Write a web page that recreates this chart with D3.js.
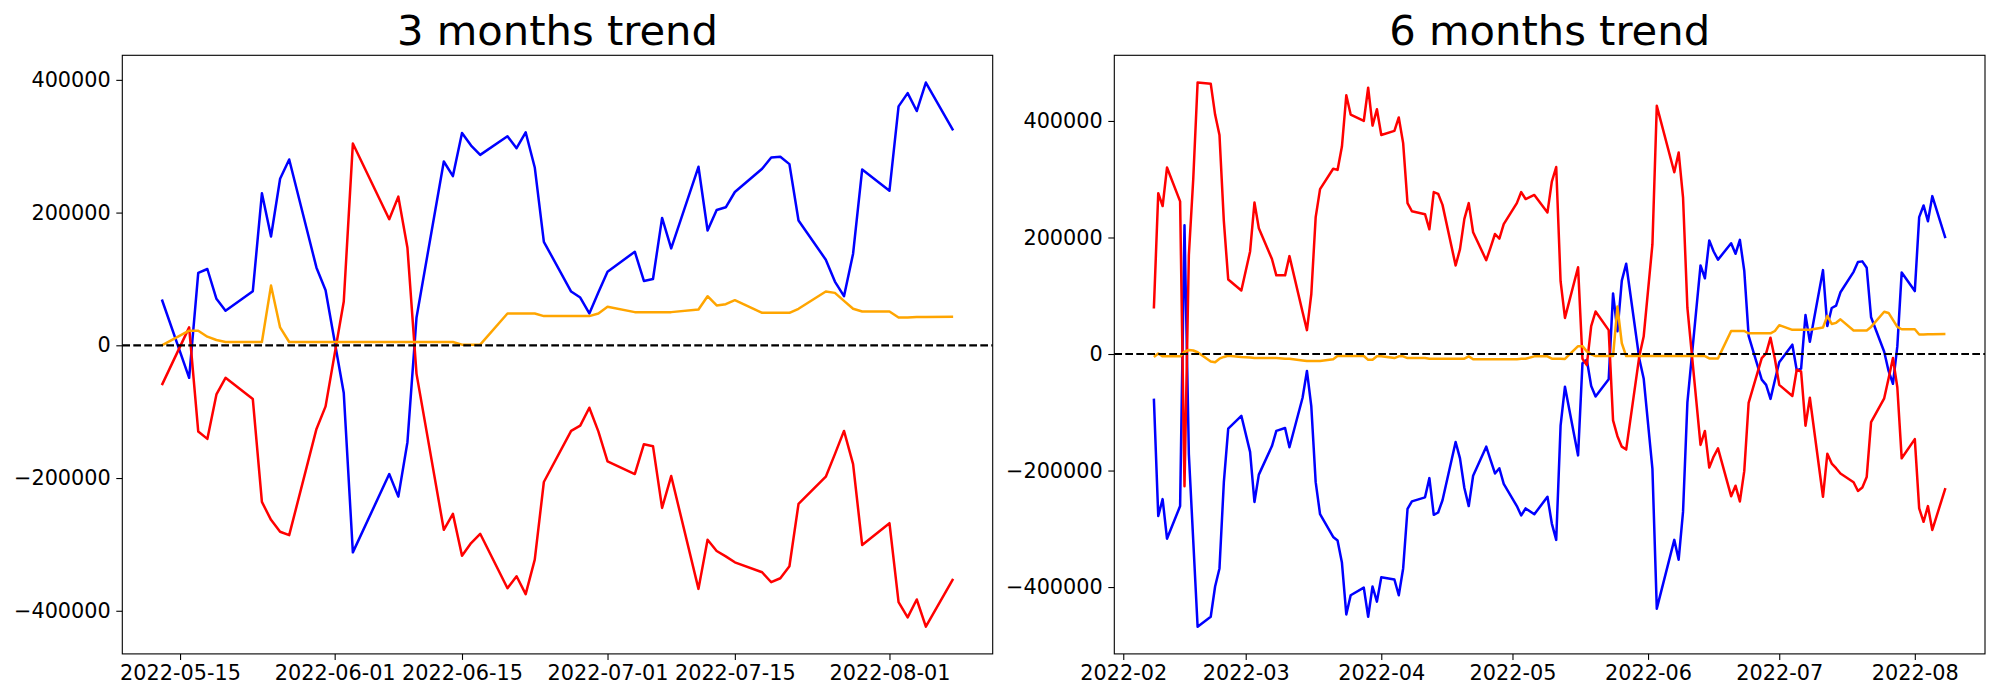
<!DOCTYPE html>
<html>
<head>
<meta charset="utf-8">
<script src="https://cdn.jsdelivr.net/npm/d3@7"></script>
<style>
  html, body { margin: 0; padding: 0; background: #fff; }
  svg { display: block; }
  text { font-family: "DejaVu Sans", sans-serif; fill: #000; }
</style>
</head>
<body>
<svg id="chart" width="2000" height="700"></svg>
<script>
// ---------- 3 months trend ----------
const dates3 = ["2022-05-13","2022-05-16","2022-05-17","2022-05-18","2022-05-19","2022-05-20","2022-05-23","2022-05-24","2022-05-25","2022-05-26","2022-05-27","2022-05-30","2022-05-31","2022-06-02","2022-06-03","2022-06-07","2022-06-08","2022-06-09","2022-06-10","2022-06-13","2022-06-14","2022-06-15","2022-06-16","2022-06-17","2022-06-20","2022-06-21","2022-06-22","2022-06-23","2022-06-24","2022-06-27","2022-06-28","2022-06-29","2022-06-30","2022-07-01","2022-07-04","2022-07-05","2022-07-06","2022-07-07","2022-07-08","2022-07-11","2022-07-12","2022-07-13","2022-07-14","2022-07-15","2022-07-18","2022-07-19","2022-07-20","2022-07-21","2022-07-22","2022-07-25","2022-07-26","2022-07-27","2022-07-28","2022-07-29","2022-08-01","2022-08-02","2022-08-03","2022-08-04","2022-08-05","2022-08-08"];
const blue3 = [69000,-49000,109000,115000,70000,52000,81500,229000,164000,251000,280000,117000,83000,-72000,-312000,-194000,-228000,-146000,42000,277000,255000,320000,301000,287000,315000,297000,321000,268000,156000,81000,72000,48000,80000,111000,141000,97000,100000,192000,146000,269000,173000,204000,208000,231000,266000,283000,284000,273000,188000,129000,96000,74000,138000,265000,233000,360000,380000,353000,396000,324000];
const red3 = [-60000,27000,-130000,-141000,-74000,-49000,-81000,-236000,-263000,-281000,-286000,-126000,-92000,66000,304000,190000,224000,147000,-43000,-278000,-254000,-317000,-298000,-284000,-366000,-348000,-375000,-323000,-206000,-129000,-121000,-94000,-130000,-175000,-194000,-149000,-152000,-245000,-197000,-367000,-293000,-310000,-318000,-327000,-342000,-357000,-351000,-333000,-239000,-198000,-164000,-129000,-179000,-301000,-268000,-387000,-410000,-383000,-424000,-352000];
const orange3 = [0,22000,22000,13000,8000,5000,5000,5000,90000,27000,5000,5000,5000,5000,5000,5000,5000,5000,5000,5000,5000,1000,1000,1000,48000,48000,48000,48000,44000,44000,44000,44000,48000,58000,50000,50000,50000,50000,50000,54000,74000,60000,62000,68000,49000,49000,49000,49000,55000,81000,79000,67000,55000,51000,51000,42000,42000,42500,42500,43000];
const xTicks3 = ["2022-05-15","2022-06-01","2022-06-15","2022-07-01","2022-07-15","2022-08-01"];

// ---------- 6 months trend ----------
const dates6 = ["2022-02-08","2022-02-09","2022-02-10","2022-02-11","2022-02-14","2022-02-15","2022-02-16","2022-02-17","2022-02-18","2022-02-21","2022-02-22","2022-02-23","2022-02-24","2022-02-25","2022-02-28",
"2022-03-02","2022-03-03","2022-03-04","2022-03-07","2022-03-08","2022-03-10","2022-03-11","2022-03-14","2022-03-15","2022-03-16","2022-03-17","2022-03-18","2022-03-21","2022-03-22","2022-03-23","2022-03-24","2022-03-25","2022-03-28","2022-03-29","2022-03-30","2022-03-31",
"2022-04-01","2022-04-04","2022-04-05","2022-04-06","2022-04-07","2022-04-08","2022-04-11","2022-04-12","2022-04-13","2022-04-14","2022-04-15","2022-04-18","2022-04-19","2022-04-20","2022-04-21","2022-04-22","2022-04-25","2022-04-26","2022-04-27","2022-04-28","2022-04-29",
"2022-05-02","2022-05-03","2022-05-04","2022-05-06","2022-05-09","2022-05-10","2022-05-11","2022-05-12",
"2022-05-13","2022-05-16","2022-05-17","2022-05-18","2022-05-19","2022-05-20","2022-05-23","2022-05-24","2022-05-25","2022-05-26","2022-05-27","2022-05-30","2022-05-31","2022-06-02","2022-06-03","2022-06-07","2022-06-08","2022-06-09","2022-06-10","2022-06-13","2022-06-14","2022-06-15","2022-06-16","2022-06-17","2022-06-20","2022-06-21","2022-06-22","2022-06-23","2022-06-24","2022-06-27","2022-06-28","2022-06-29","2022-06-30","2022-07-01","2022-07-04","2022-07-05","2022-07-06","2022-07-07","2022-07-08","2022-07-11","2022-07-12","2022-07-13","2022-07-14","2022-07-15","2022-07-18","2022-07-19","2022-07-20","2022-07-21","2022-07-22","2022-07-25","2022-07-26","2022-07-27","2022-07-28","2022-07-29","2022-08-01","2022-08-02","2022-08-03","2022-08-04","2022-08-05","2022-08-08"];
const blue6 = [-76500,-278000,-249000,-317000,-261000,221000,-172000,-320000,-468000,-451000,-399000,-368000,-220000,-128000,-106000,
-168000,-254000,-207000,-158000,-132000,-127000,-160000,-75000,-29000,-90000,-220000,-275000,-314000,-320000,-358000,-447000,-414000,-401000,-451000,-399000,-425000,
-383000,-387000,-414000,-368000,-266000,-253000,-246000,-213000,-276000,-272000,-251000,-151000,-179000,-230000,-261000,-209000,-159000,-182000,-205000,-196000,-223000,
-261000,-277000,-265000,-275000,-245000,-291000,-319000,-123000,
-56000,-174000,-16000,-10000,-55000,-73000,-43500,104000,39000,126000,155000,-8000,-42000,-197000,-437000,-319000,-353000,-271000,-83000,152000,130000,195000,176000,162000,190000,172000,196000,143000,31000,-44000,-53000,-77000,-45000,-14000,16000,-28000,-25000,67000,21000,144000,48000,79000,83000,106000,141000,158000,159000,148000,63000,4000,-29000,-51000,13000,140000,108000,235000,255000,228000,271000,199000];
const red6 = [78000,276000,254000,320000,262000,-227000,170000,300000,466000,464000,411000,376000,228000,128000,109000,
176000,260000,216000,163000,135000,135000,168000,72000,41000,103000,235000,283000,318000,316000,356000,444000,411000,400000,457000,392000,420000,
376000,383000,406000,362000,259000,245000,240000,214000,278000,275000,256000,152000,180000,232000,259000,209000,161000,183000,206000,198000,223000,
259000,278000,266000,273000,243000,296000,321000,125000,
62000,149000,-8000,-19000,48000,73000,41000,-114000,-141000,-159000,-164000,-4000,30000,188000,426000,312000,346000,269000,79000,-156000,-132000,-195000,-176000,-162000,-244000,-226000,-253000,-201000,-84000,-7000,1000,28000,-8000,-53000,-72000,-27000,-30000,-123000,-75000,-245000,-171000,-188000,-196000,-205000,-220000,-235000,-229000,-211000,-117000,-76000,-42000,-7000,-57000,-179000,-146000,-265000,-288000,-261000,-302000,-230000];
const orange6 = [-5000,1000,-4000,-4000,-4000,4000,7000,6000,3000,-13000,-14000,-8000,-5000,-3000,-5000,
-6000,-7000,-7000,-7000,-7000,-8000,-8000,-11000,-12000,-12000,-12000,-12000,-9000,-3500,-3500,-3500,-3500,-3500,-10000,-10000,-4000,
-4000,-7000,-4000,-4000,-7000,-7000,-7000,-8000,-8000,-8000,-8000,-8000,-8000,-8000,-4000,-9000,-9000,-9000,-9000,-9000,-9000,
-9000,-8000,-8000,-4000,-4000,-8000,-8000,-8000,
-8500,13500,13500,4500,-500,-3500,-3500,-3500,81500,18500,-3500,-3500,-3500,-3500,-3500,-3500,-3500,-3500,-3500,-3500,-3500,-7500,-7500,-7500,39500,39500,39500,39500,35500,35500,35500,35500,39500,49500,41500,41500,41500,41500,41500,45500,65500,51500,53500,59500,40500,40500,40500,40500,46500,72500,70500,58500,46500,42500,42500,33500,33500,34000,34000,34500];
const xTicks6 = ["2022-02-01","2022-03-01","2022-04-01","2022-05-01","2022-06-01","2022-07-01","2022-08-01"];

const yTicks = [-400000, -200000, 0, 200000, 400000];
const seriesColors = ["blue", "red", "orange"];

const parse = d3.utcParse("%Y-%m-%d");
const svg = d3.select("#chart");

function panel(cfg) {
  const dates = cfg.dates.map(parse);
  const allVals = cfg.series.flat();
  const [ymin, ymax] = d3.extent(allVals);
  const yr = ymax - ymin;
  const [t0, t1] = d3.extent(dates);
  const tr = t1 - t0;
  const x = d3.scaleUtc()
    .domain([new Date(+t0 - 0.05 * tr), new Date(+t1 + 0.05 * tr)])
    .range([cfg.left, cfg.right]);
  const y = d3.scaleLinear()
    .domain([ymin - 0.05 * yr, ymax + 0.05 * yr])
    .range([cfg.bottom, cfg.top]);

  const g = svg.append("g");

  const line = d3.line()
    .x(d => x(d[0]))
    .y(d => y(d[1]));

  cfg.series.forEach((vals, i) => {
    g.append("path")
      .datum(dates.map((d, j) => [d, vals[j]]))
      .attr("fill", "none")
      .attr("stroke", seriesColors[i])
      .attr("stroke-width", 2.5)
      .attr("stroke-linejoin", "round")
      .attr("d", line);
  });

  // zero dashed line
  g.append("line")
    .attr("x1", cfg.left).attr("x2", cfg.right)
    .attr("y1", y(0)).attr("y2", y(0))
    .attr("stroke", "#000")
    .attr("stroke-width", 2.2)
    .attr("stroke-dasharray", "7.7,3.3");

  // frame
  g.append("rect")
    .attr("x", cfg.left).attr("y", cfg.top)
    .attr("width", cfg.right - cfg.left)
    .attr("height", cfg.bottom - cfg.top)
    .attr("fill", "none")
    .attr("stroke", "#000")
    .attr("stroke-width", 1.1);

  const xAxis = d3.axisBottom(x)
    .tickValues(cfg.xTicks.map(parse))
    .tickFormat(d3.utcFormat(cfg.xFormat))
    .tickSize(6).tickPadding(5);
  const gx = g.append("g")
    .attr("transform", `translate(0,${cfg.bottom})`)
    .call(xAxis);
  gx.select(".domain").remove();
  gx.selectAll(".tick line").attr("stroke-width", 1.1);
  gx.selectAll(".tick text")
    .attr("y", 26).attr("dy", "0")
    .style("font-size", "20.8px")
    .style("font-family", "'DejaVu Sans', sans-serif");

  const yAxis = d3.axisLeft(y)
    .tickValues(yTicks)
    .tickFormat(d => (d < 0 ? "\u2212" : "") + Math.abs(d))
    .tickSize(6).tickPadding(5.5);
  const gy = g.append("g")
    .attr("transform", `translate(${cfg.left},0)`)
    .call(yAxis);
  gy.select(".domain").remove();
  gy.selectAll(".tick line").attr("stroke-width", 1.1);
  gy.selectAll(".tick text")
    .style("font-size", "20.8px")
    .style("font-family", "'DejaVu Sans', sans-serif");

  g.append("text")
    .attr("x", (cfg.left + cfg.right) / 2)
    .attr("y", 45)
    .attr("text-anchor", "middle")
    .style("font-size", "41.67px")
    .text(cfg.title);
}

panel({
  left: 122.3, right: 992.7, top: 55.3, bottom: 653.9,
  dates: dates3, series: [blue3, red3, orange3],
  xTicks: xTicks3, xFormat: "%Y-%m-%d", title: "3 months trend"
});
panel({
  left: 1114.3, right: 1985, top: 55.3, bottom: 653.9,
  dates: dates6, series: [blue6, red6, orange6],
  xTicks: xTicks6, xFormat: "%Y-%m", title: "6 months trend"
});
</script>
</body>
</html>
